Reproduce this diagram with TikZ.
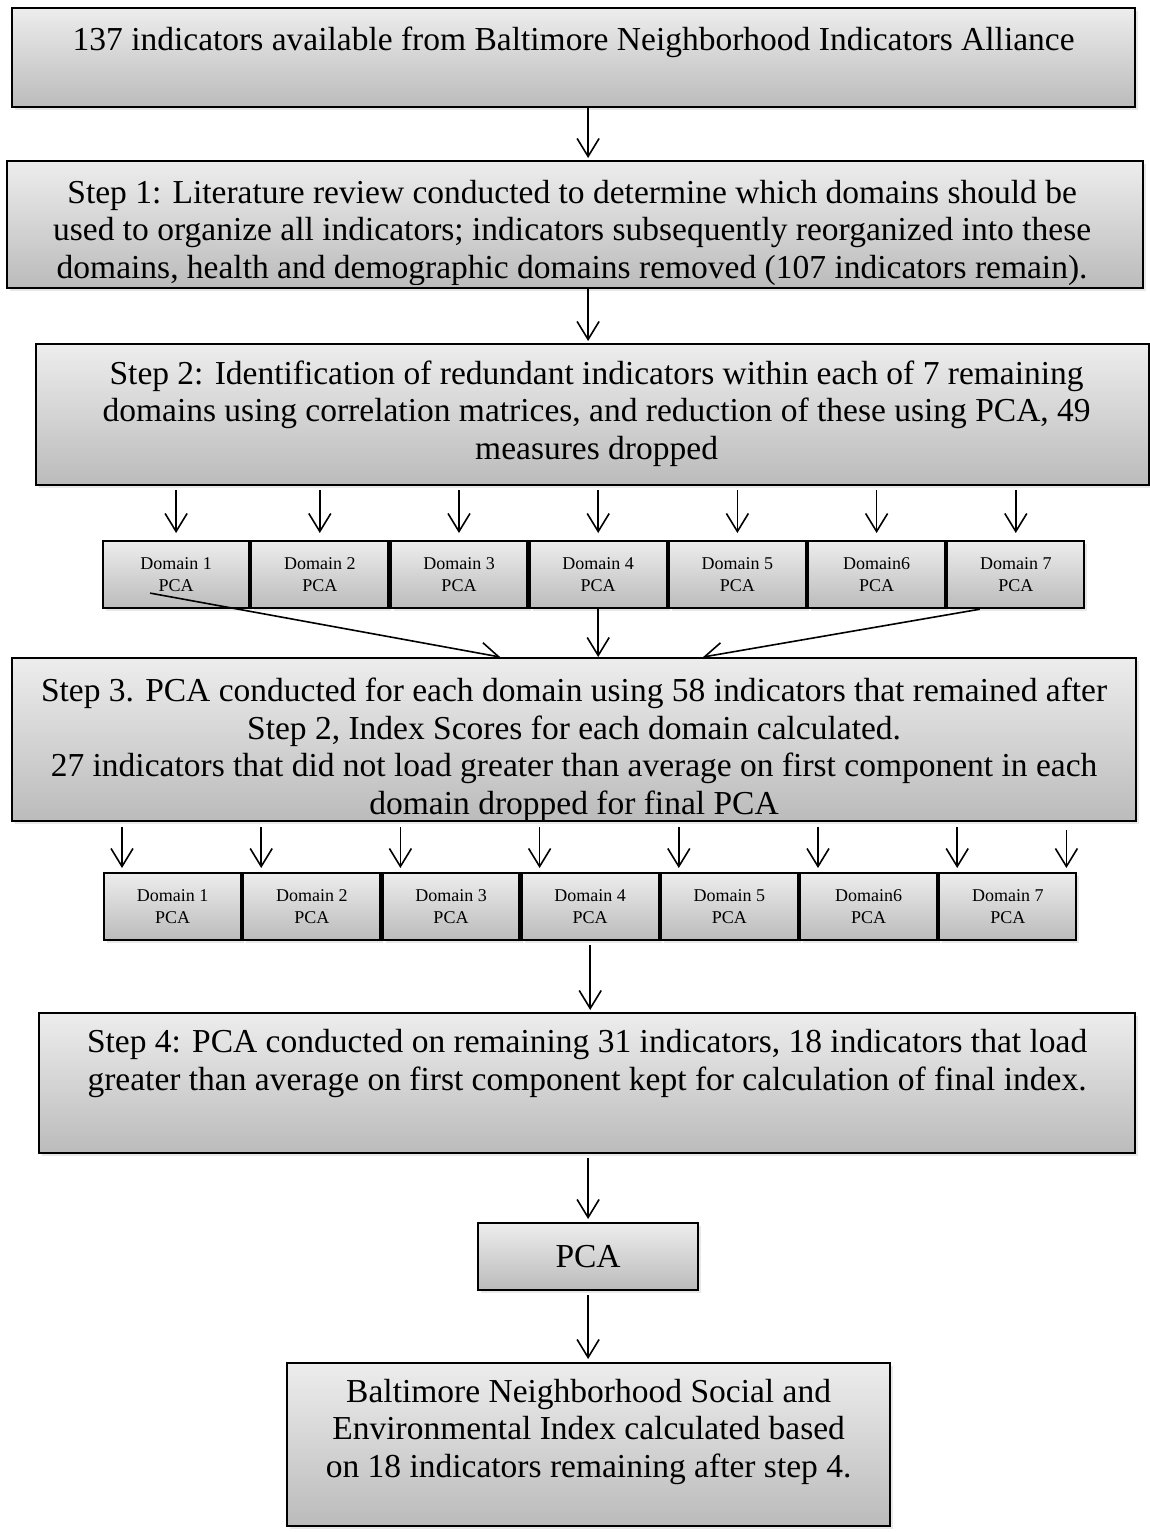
\documentclass[tikz,border=0pt]{standalone}
\usepackage{fontspec}
\setmainfont{Liberation Serif}
\usetikzlibrary{arrows.meta,positioning,calc,shadows}
\definecolor{boxtop}{RGB}{237,237,237}
\definecolor{boxbot}{RGB}{187,187,187}
\pgfdeclarelayer{front}
\pgfsetlayers{main,front}
\tikzstyle{arrow} = [line width=1.6pt,-{Straight Barb[length=18pt,width=22pt]}]
\tikzstyle{stepbox} = [draw, line width=2.2pt, top color=boxtop, bottom color=boxbot,
  drop shadow={shadow xshift=3pt,shadow yshift=-3pt,opacity=0.18},
  inner sep=0pt, anchor=north west]
% anchor=base of a multi-line node is the baseline of its last line
\tikzstyle{steptext} = [font=\fontsize{33.5}{37.5}\selectfont, align=center, inner sep=0pt, anchor=base]
\tikzstyle{dombox} = [stepbox, minimum width=137pt, minimum height=67pt,
  font=\fontsize{18}{22}\selectfont, align=center]

\begin{document}
\begin{tikzpicture}[x=1pt,y=-1pt,node distance=0pt]
\useasboundingbox (0,0) rectangle (1150,1532);

% source box and step 1
\node[stepbox, minimum width=1123pt, minimum height=99pt] (src) at (11,7) {};
\node[steptext] (srct) at ($(src.north)+(0,43)$)
  {137 indicators available from Baltimore Neighborhood Indicators Alliance};

\node[stepbox, minimum width=1136pt, minimum height=127pt] (s1) at (6,160) {};
\begin{scope}
  \clip (s1.north west) rectangle ([yshift=5pt]s1.south east);
  \node[steptext] (s1t) at ($(s1.north)+(-3,118)$)
    {Step 1: Literature review conducted to determine which domains should be\\
     used to organize all indicators; indicators subsequently reorganized into these\\
     domains, health and demographic domains removed (107 indicators remain).};
\end{scope}

% step 2 and first domain row
\node[stepbox, minimum width=1113pt, minimum height=141pt] (s2) at (35,343) {};
\node[steptext] (s2t) at ($(s2.north)+(4,116)$)
  {Step 2: Identification of redundant indicators within each of 7 remaining\\
   domains using correlation matrices, and reduction of these using PCA, 49\\
   measures dropped};

\node[dombox, minimum width=146pt] (dA1) at (102,540) {Domain 1\\PCA};
\node[dombox, right=of dA1.east, anchor=west] (dA2) {Domain 2\\PCA};
\node[dombox, right=of dA2.east, anchor=west] (dA3) {Domain 3\\PCA};
\node[dombox, right=of dA3.east, anchor=west] (dA4) {Domain 4\\PCA};
\node[dombox, right=of dA4.east, anchor=west] (dA5) {Domain 5\\PCA};
\node[dombox, right=of dA5.east, anchor=west] (dA6) {Domain6\\PCA};
\node[dombox, right=of dA6.east, anchor=west] (dA7) {Domain 7\\PCA};

% step 3 sits on top of the incoming lines
\begin{pgfonlayer}{front}
\node[stepbox, minimum width=1124pt, minimum height=163pt] (s3) at (11,657) {};
\begin{scope}
  \clip (s3.north west) rectangle ([yshift=3pt]s3.south east);
  \node[steptext] (s3t) at ($(s3.north)+(0,157)$)
    {Step 3. PCA conducted for each domain using 58 indicators that remained after\\
     Step 2, Index Scores for each domain calculated.\\
     27 indicators that did not load greater than average on first component in each\\
     domain dropped for final PCA};
\end{scope}
\end{pgfonlayer}

% second domain row
\node[dombox] (dB1) at (103,872) {Domain 1\\PCA};
\node[dombox, right=of dB1.east, anchor=west] (dB2) {Domain 2\\PCA};
\node[dombox, right=of dB2.east, anchor=west] (dB3) {Domain 3\\PCA};
\node[dombox, right=of dB3.east, anchor=west] (dB4) {Domain 4\\PCA};
\node[dombox, right=of dB4.east, anchor=west] (dB5) {Domain 5\\PCA};
\node[dombox, right=of dB5.east, anchor=west] (dB6) {Domain6\\PCA};
\node[dombox, right=of dB6.east, anchor=west] (dB7) {Domain 7\\PCA};

% step 4, PCA, index
\node[stepbox, minimum width=1096pt, minimum height=140pt] (s4) at (38,1012) {};
\node[steptext] (s4t) at ($(s4.north)+(0,78)$)
  {Step 4: PCA conducted on remaining 31 indicators, 18 indicators that load\\
   greater than average on first component kept for calculation of final index.};

\node[stepbox, minimum width=220pt, minimum height=67pt,
  font=\fontsize{33.5}{37.5}\selectfont] (pca) at (477,1222) {PCA};

\node[stepbox, minimum width=603pt, minimum height=163pt] (fin) at (286,1362) {};
\node[steptext] (fint) at ($(fin.north)+(0,115)$)
  {Baltimore Neighborhood Social and\\
   Environmental Index calculated based\\
   on 18 indicators remaining after step 4.};

% connectors
\draw[arrow] (src.south -| pca) -- ([yshift=2pt]s1.north -| pca);
\draw[arrow] (s1.south -| pca) -- ([yshift=2pt]s2.north -| pca);

\draw[arrow] ([yshift=-4pt]s2.south -| dA1) -- ([yshift=7pt]dA1.north);
\draw[arrow] ([yshift=-4pt]s2.south -| dA2) -- ([yshift=7pt]dA2.north);
\draw[arrow] ([yshift=-4pt]s2.south -| dA3) -- ([yshift=7pt]dA3.north);
\draw[arrow] ([yshift=-4pt]s2.south -| dA4) -- ([yshift=7pt]dA4.north);
\draw[arrow] ([yshift=-4pt]s2.south -| dA5) -- ([yshift=7pt]dA5.north);
\draw[arrow] ([yshift=-4pt]s2.south -| dA6) -- ([yshift=7pt]dA6.north);
\draw[arrow] ([yshift=-4pt]s2.south -| dA7) -- ([yshift=7pt]dA7.north);

\draw[arrow] ([xshift=-26pt,yshift=-18.5pt]dA1.center) -- ([xshift=-74pt]s3.north);
\draw[arrow] (dA4.south) -- (s3.north -| dA4.south);
\draw[arrow] ([xshift=-36pt]dA7.south) -- ([xshift=129pt]s3.north);

\draw[arrow] ([xshift=19pt,yshift=-5pt]s3.south -| dB1.west) -- ([xshift=19pt,yshift=4pt]dB1.north west);
\draw[arrow] ([xshift=19pt,yshift=-5pt]s3.south -| dB2.west) -- ([xshift=19pt,yshift=4pt]dB2.north west);
\draw[arrow] ([xshift=19pt,yshift=-5pt]s3.south -| dB3.west) -- ([xshift=19pt,yshift=4pt]dB3.north west);
\draw[arrow] ([xshift=19pt,yshift=-5pt]s3.south -| dB4.west) -- ([xshift=19pt,yshift=4pt]dB4.north west);
\draw[arrow] ([xshift=19pt,yshift=-5pt]s3.south -| dB5.west) -- ([xshift=19pt,yshift=4pt]dB5.north west);
\draw[arrow] ([xshift=19pt,yshift=-5pt]s3.south -| dB6.west) -- ([xshift=19pt,yshift=4pt]dB6.north west);
\draw[arrow] ([xshift=19pt,yshift=-5pt]s3.south -| dB7.west) -- ([xshift=19pt,yshift=4pt]dB7.north west);
\draw[arrow] ([xshift=-11pt,yshift=-8pt]s3.south -| dB7.east) -- ([xshift=-11pt,yshift=4pt]dB7.north east);

\draw[arrow] ([yshift=-4pt]dB4.south) -- ([yshift=2pt]s4.north -| dB4.south);
\draw[arrow] ([yshift=-4pt]s4.south -| pca) -- ([yshift=3pt]pca.north);
\draw[arrow] ([yshift=-4pt]pca.south) -- ([yshift=3pt]fin.north -| pca);

\end{tikzpicture}
\end{document}
